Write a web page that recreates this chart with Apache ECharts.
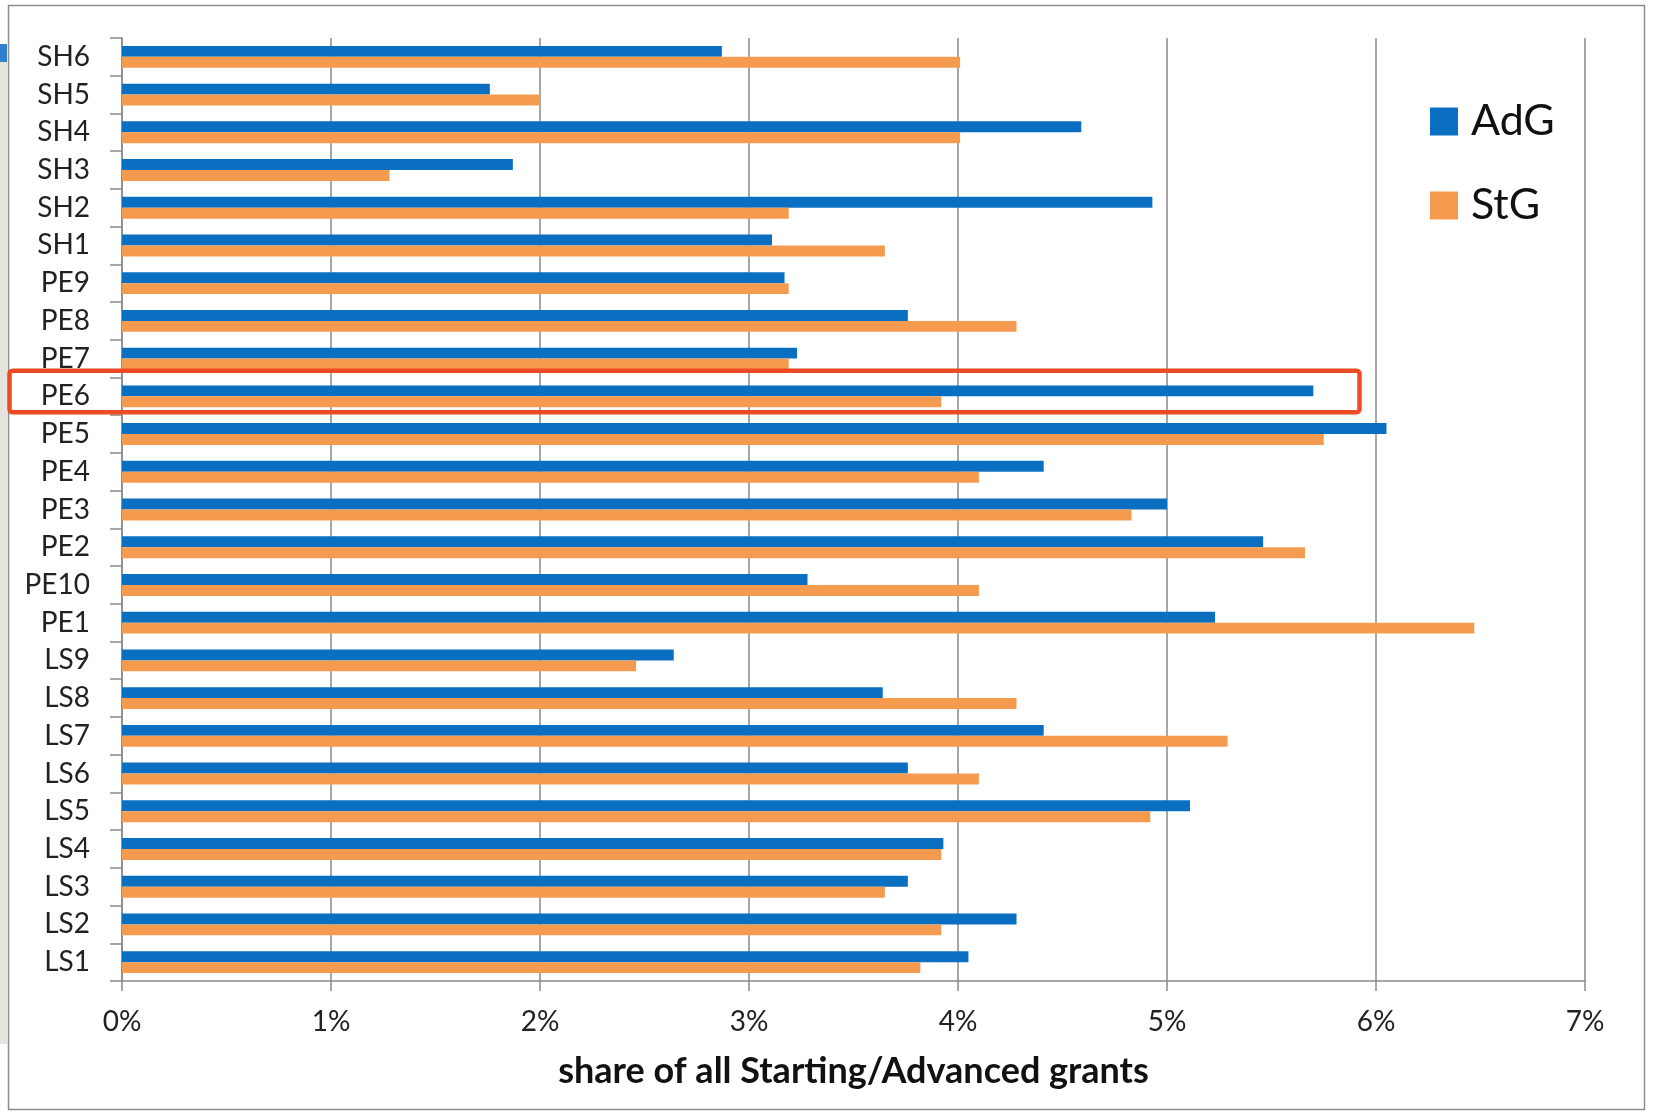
<!DOCTYPE html>
<html>
<head>
<meta charset="utf-8">
<script src="https://cdn.jsdelivr.net/npm/echarts@6/dist/echarts.min.js"></script>
<style>
  html, body { margin: 0; padding: 0; background: #ffffff; }
  #chart { width: 1655px; height: 1115px; }
</style>
</head>
<body>
<div id="chart"></div>
<script>
// ERC panels, listed top to bottom
const panels = ['SH6','SH5','SH4','SH3','SH2','SH1','PE9','PE8','PE7','PE6','PE5','PE4','PE3','PE2','PE10','PE1','LS9','LS8','LS7','LS6','LS5','LS4','LS3','LS2','LS1'];

// share of all Advanced grants (%)
const adg = [2.87, 1.76, 4.59, 1.87, 4.93, 3.11, 3.17, 3.76, 3.23, 5.70, 6.05, 4.41, 5.00, 5.46, 3.28, 5.23, 2.64, 3.64, 4.41, 3.76, 5.11, 3.93, 3.76, 4.28, 4.05];

// share of all Starting grants (%)
const stg = [4.01, 2.00, 4.01, 1.28, 3.19, 3.65, 3.19, 4.28, 3.19, 3.92, 5.75, 4.10, 4.83, 5.66, 4.10, 6.47, 2.46, 4.28, 5.29, 4.10, 4.92, 3.92, 3.65, 3.92, 3.82];

const xTicks = [0, 1, 2, 3, 4, 5, 6, 7];
const highlighted = 'PE6';

const FONT = 'Lato, "Open Sans", sans-serif';
const BLUE = '#0B6FC1';
const ORANGE = '#F59B50';
const GRID = '#8a8a8a';

const chart = echarts.init(document.getElementById('chart'), null, { renderer: 'canvas' });

const option = {
  backgroundColor: '#ffffff',
  animation: false,
  grid: { left: 122, right: 70, top: 38, bottom: 134, containLabel: false },
  legend: {
    orient: 'vertical',
    left: 1425,
    top: 95,
    itemWidth: 28,
    itemHeight: 28,
    itemGap: 41,
    icon: 'rect',
    textStyle: { fontFamily: FONT, fontSize: 43, lineHeight: 43, color: '#111', padding: [0, 0, 0, 8] },
    data: ['AdG', 'StG']
  },
  xAxis: {
    type: 'value',
    min: xTicks[0],
    max: xTicks[xTicks.length - 1],
    interval: 1,
    name: 'share of all Starting/Advanced grants',
    nameLocation: 'middle',
    nameGap: 72,
    nameTextStyle: { fontFamily: FONT, fontSize: 36, fontWeight: 'bold', color: '#111' },
    axisLine: { show: true, lineStyle: { color: GRID, width: 1.5 } },
    axisTick: { show: true, length: 10, lineStyle: { color: GRID, width: 1.5 } },
    axisLabel: { fontFamily: FONT, fontSize: 28, color: '#222', margin: 27, formatter: v => v + '%' },
    splitLine: { show: true, lineStyle: { color: GRID, width: 1.5 } }
  },
  yAxis: {
    type: 'category',
    inverse: true,
    data: panels,
    axisLine: { show: true, lineStyle: { color: GRID, width: 1.5 } },
    axisTick: { show: true, length: 12, alignWithLabel: false, lineStyle: { color: GRID, width: 1.5 } },
    axisLabel: { fontFamily: FONT, fontSize: 28, color: '#222', margin: 32 },
    splitLine: { show: false }
  },
  series: [
    {
      name: 'AdG', type: 'bar', data: adg,
      itemStyle: { color: BLUE },
      barGap: '0%', barCategoryGap: '42%'
    },
    {
      name: 'StG', type: 'bar', data: stg,
      itemStyle: { color: ORANGE },
      barGap: '0%', barCategoryGap: '42%'
    }
  ]
};

chart.setOption(option);

// Frame, slide edge and the highlight box around the PE6 row
const band = (1115 - 38 - 134) / panels.length;
const cy = chart.convertToPixel({ yAxisIndex: 0 }, highlighted);
chart.setOption({
  graphic: [
    { type: 'rect', shape: { x: 0, y: 62, width: 7, height: 982 }, style: { fill: '#e6e2de' }, z: 0 },
    { type: 'rect', shape: { x: 0, y: 44, width: 7, height: 18 }, style: { fill: '#2f80cf' }, z: 0 },
    { type: 'rect', shape: { x: 8.5, y: 5.5, width: 1636, height: 1104 }, style: { fill: null, stroke: '#8c8c8c', lineWidth: 1.5 }, z: 0 },
    {
      type: 'rect',
      shape: { x: 9.5, y: cy - band * 0.68, width: 1350, height: band * 1.1, r: 3 },
      style: { fill: null, stroke: '#EE4B25', lineWidth: 4.5 },
      z: 100
    }
  ]
});
</script>
</body>
</html>
